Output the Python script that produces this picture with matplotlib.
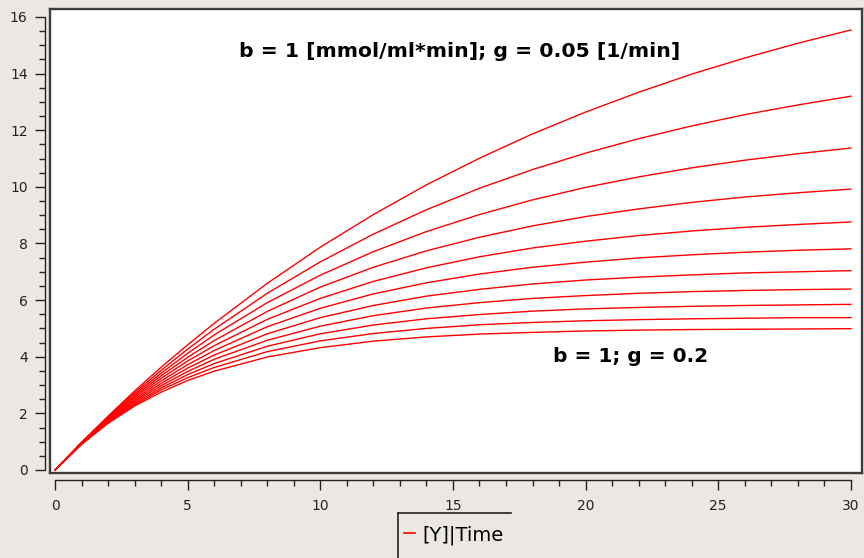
import matplotlib
matplotlib.use("Agg")
import matplotlib.pyplot as plt
from matplotlib.lines import Line2D

plt.rcParams['font.family'] = ['DejaVu Sans']

# time points (min)
time = [0, 1, 2, 3, 4, 5, 6, 8, 10, 12, 14, 16, 18, 20, 22, 24, 26, 28, 30]

# [Y] for b = 1 and g from 0.05 up to 0.2
y_g050 = [0, 0.98, 1.90, 2.79, 3.63, 4.42, 5.18, 6.59, 7.87, 9.02, 10.07, 11.01, 11.87, 12.64, 13.34, 13.98, 14.55, 15.07, 15.54]
y_g065 = [0, 0.97, 1.88, 2.73, 3.52, 4.27, 4.97, 6.24, 7.35, 8.33, 9.19, 9.95, 10.61, 11.19, 11.70, 12.15, 12.55, 12.89, 13.20]
y_g080 = [0, 0.96, 1.85, 2.67, 3.42, 4.12, 4.77, 5.91, 6.88, 7.71, 8.42, 9.02, 9.54, 9.98, 10.35, 10.67, 10.94, 11.17, 11.37]
y_g095 = [0, 0.95, 1.82, 2.61, 3.33, 3.98, 4.57, 5.60, 6.46, 7.16, 7.74, 8.22, 8.62, 8.95, 9.22, 9.45, 9.64, 9.79, 9.92]
y_g110 = [0, 0.95, 1.80, 2.56, 3.24, 3.85, 4.39, 5.32, 6.06, 6.66, 7.14, 7.53, 7.84, 8.08, 8.28, 8.44, 8.57, 8.67, 8.76]
y_g125 = [0, 0.94, 1.77, 2.50, 3.15, 3.72, 4.22, 5.06, 5.71, 6.22, 6.61, 6.92, 7.16, 7.34, 7.49, 7.60, 7.69, 7.76, 7.81]
y_g140 = [0, 0.93, 1.74, 2.45, 3.06, 3.60, 4.06, 4.81, 5.38, 5.81, 6.14, 6.38, 6.57, 6.71, 6.81, 6.89, 6.96, 7.00, 7.04]
y_g155 = [0, 0.93, 1.72, 2.40, 2.98, 3.48, 3.91, 4.58, 5.08, 5.45, 5.72, 5.91, 6.06, 6.16, 6.24, 6.30, 6.34, 6.37, 6.39]
y_g170 = [0, 0.92, 1.70, 2.35, 2.90, 3.37, 3.76, 4.37, 4.81, 5.12, 5.34, 5.49, 5.61, 5.69, 5.74, 5.78, 5.81, 5.83, 5.85]
y_g185 = [0, 0.91, 1.67, 2.30, 2.83, 3.26, 3.62, 4.18, 4.56, 4.82, 5.00, 5.13, 5.21, 5.27, 5.31, 5.34, 5.36, 5.38, 5.38]
y_g200 = [0, 0.91, 1.65, 2.26, 2.75, 3.16, 3.49, 3.99, 4.32, 4.55, 4.70, 4.80, 4.86, 4.91, 4.94, 4.96, 4.97, 4.98, 4.99]

curves = [y_g050, y_g065, y_g080, y_g095, y_g110, y_g125,
          y_g140, y_g155, y_g170, y_g185, y_g200]

W, H = 864, 558
bg = '#ebe8e3'
fig = plt.figure(figsize=(W / 100, H / 100), dpi=100, facecolor=bg)

# white plot box with dark frame
rect = [50 / W, 85 / H, 812 / W, 464 / H]
ax = fig.add_axes(rect)
ax.set_facecolor('white')
for s in ax.spines.values():
    s.set_color('#3c3c3c')
    s.set_linewidth(1.7)
ax.set_xticks([])
ax.set_yticks([])

for y in curves:
    ax.plot(time, y, color='#ff0000', lw=1.0)

xlim = (-0.19, 30.42)
ylim = (-0.106, 16.28)
ax.set_xlim(xlim)
ax.set_ylim(ylim)

# detached axes with ticks
ax2 = fig.add_axes(rect, facecolor='none')
ax2.set_xlim(xlim)
ax2.set_ylim(ylim)
ax2.spines['top'].set_visible(False)
ax2.spines['right'].set_visible(False)
ax2.spines['left'].set_position(('outward', 3.6))
ax2.spines['bottom'].set_position(('outward', 5))
ax2.spines['left'].set_bounds(0, 16)
ax2.spines['bottom'].set_bounds(0, 30)
for s in ('left', 'bottom'):
    ax2.spines[s].set_color('#222222')
    ax2.spines[s].set_linewidth(1.0)
ax2.set_xticks(range(0, 31, 5))
ax2.set_xticks(range(0, 31), minor=True)
ax2.set_yticks(range(0, 17, 2))
ax2.set_yticks([v / 2 for v in range(0, 33)], minor=True)
ax2.tick_params(which='major', direction='out', length=7.5, width=1.0,
                color='#222222', labelsize=10, labelcolor='#222222')
ax2.tick_params(which='minor', direction='out', length=4, width=1.0,
                color='#222222')
ax2.tick_params(axis='y', which='major', pad=5)
ax2.tick_params(axis='x', which='major', pad=6)

# annotations
fig.text(460 / W, 1 - 57 / H, 'b = 1 [mmol/ml*min]; g = 0.05 [1/min]',
         ha='center', va='baseline', fontsize=14.7, fontweight='bold')
fig.text(553 / W, 1 - 362 / H, 'b = 1; g = 0.2',
         ha='left', va='baseline', fontsize=14.5, fontweight='bold')

# legend
handle = Line2D([], [], color='#ff0000', lw=1.2)
fig.legend([handle], ['[Y]|Time'], loc='center left',
           bbox_to_anchor=(400 / W, 1 - 535 / H), frameon=False,
           handlelength=0.55, handletextpad=0.4, fontsize=14,
           borderaxespad=0, borderpad=0.2)
fig.add_artist(Line2D([398 / W, 398 / W], [1 - 513 / H, 0], color='#222222', lw=1.2))
fig.add_artist(Line2D([398 / W, 511 / W], [1 - 513 / H, 1 - 513 / H], color='#222222', lw=1.2))

fig.savefig('out.png', dpi=100, facecolor=bg)
